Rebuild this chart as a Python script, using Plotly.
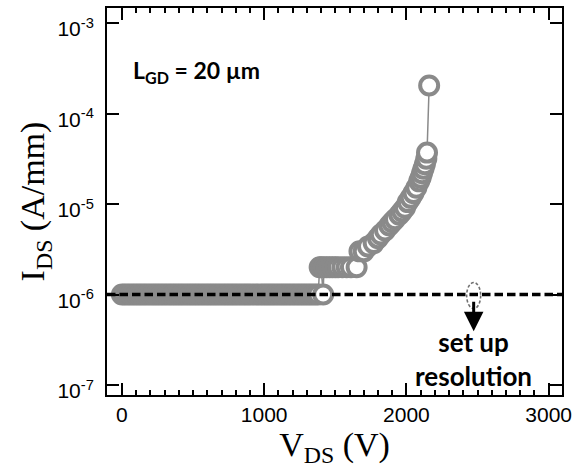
import plotly.graph_objects as go
import numpy as np

# ---- data ----
vds = [
    0, 20, 40, 60, 80, 100, 120, 140, 160, 180,
    200, 220, 240, 260, 280, 300, 320, 340, 360, 380,
    400, 420, 440, 460, 480, 500, 520, 540, 560, 580,
    600, 620, 640, 660, 680, 700, 720, 740, 760, 780,
    800, 820, 840, 860, 880, 900, 920, 940, 960, 980,
    1000, 1020, 1040, 1060, 1080, 1100, 1120, 1140, 1160, 1180,
    1200, 1220, 1240, 1260, 1280, 1300, 1320, 1340, 1360, 1380,
    1390, 1400, 1415, 1420, 1440, 1460, 1480, 1500, 1520, 1550, 1580, 1610, 1650,
    1670, 1700, 1730, 1770, 1800, 1820, 1850, 1880, 1900, 1920,
    1950, 1970, 1990, 2010, 2030, 2050, 2070, 2090, 2100, 2110,
    2120, 2130, 2140, 2145, 2160,
]
ids = [
    1e-6, 1e-6, 1e-6, 1e-6, 1e-6, 1e-6, 1e-6, 1e-6, 1e-6, 1e-6,
    1e-6, 1e-6, 1e-6, 1e-6, 1e-6, 1e-6, 1e-6, 1e-6, 1e-6, 1e-6,
    1e-6, 1e-6, 1e-6, 1e-6, 1e-6, 1e-6, 1e-6, 1e-6, 1e-6, 1e-6,
    1e-6, 1e-6, 1e-6, 1e-6, 1e-6, 1e-6, 1e-6, 1e-6, 1e-6, 1e-6,
    1e-6, 1e-6, 1e-6, 1e-6, 1e-6, 1e-6, 1e-6, 1e-6, 1e-6, 1e-6,
    1e-6, 1e-6, 1e-6, 1e-6, 1e-6, 1e-6, 1e-6, 1e-6, 1e-6, 1e-6,
    1e-6, 1e-6, 1e-6, 1e-6, 1e-6, 1e-6, 1e-6, 1e-6, 1e-6, 1e-6,
    2e-6, 2e-6, 1e-6, 2e-6, 2e-6, 2e-6, 2e-6, 2e-6, 2e-6, 2e-6, 2e-6, 2e-6, 2e-6,
    3.0e-6, 3.0e-6, 3.4e-6, 3.7e-6, 4.2e-6, 4.6e-6, 5.1e-6, 5.8e-6, 6.3e-6, 6.8e-6,
    7.6e-6, 8.3e-6, 9.1e-6, 1.05e-5, 1.17e-5, 1.32e-5, 1.51e-5, 1.78e-5, 1.95e-5, 2.19e-5,
    2.45e-5, 2.75e-5, 3.16e-5, 3.7e-5, 2.04e-4,
]

resolution_level = 1e-6
resolution_x = [-105, 3094]
marker_v = 2473

x_ticks = [0, 1000, 2000, 3000]
x_ticktext = ["0", "1000", "2000", "3000"]
y_ticks = [1e-7, 1e-6, 1e-5, 1e-4, 1e-3]
y_ticktext = ["10<sup>-7</sup>", "10<sup>-6</sup>", "10<sup>-5</sup>",
              "10<sup>-4</sup>", "10<sup>-3</sup>"]

GRAY = "#8a8a8a"

W, H = 583, 476
ML, MR, MT, MB = 107, 21, 8, 81
X_RANGE = [-105, 3094]
Y_RANGE = [-7.11, -2.834]

fig = go.Figure()
fig.add_trace(go.Scatter(
    x=vds, y=ids, mode="lines+markers",
    line=dict(color=GRAY, width=1.5),
    marker=dict(symbol="circle", size=18, color="white",
                line=dict(color=GRAY, width=4)),
    showlegend=False, cliponaxis=True, hoverinfo="skip",
))
fig.add_trace(go.Scatter(
    x=resolution_x, y=[resolution_level, resolution_level], mode="lines",
    line=dict(color="black", width=3.5, dash="8.5px,4px"),
    showlegend=False, hoverinfo="skip",
))

axis_common = dict(
    showline=True, linecolor="black", linewidth=2, mirror="allticks",
    ticks="inside", ticklen=12, tickwidth=2, tickcolor="black",
    showgrid=False, zeroline=False, automargin=False,
    tickfont=dict(family="Liberation Sans, Arial", size=21, color="black"),
)

fig.update_xaxes(
    range=X_RANGE, tickvals=x_ticks, ticktext=x_ticktext,
    minor=dict(ticks="inside", ticklen=5, tickwidth=1.5, tickcolor="black", dtick=100,
               showgrid=False),
    title=dict(text="V<sub>DS</sub> (V)",
               font=dict(family="Liberation Serif, Times New Roman", size=34, color="black"),
               standoff=4),
    **axis_common,
)
fig.update_yaxes(
    type="log", range=Y_RANGE, tickvals=y_ticks, ticktext=y_ticktext,
    ticklabelshift=6, ticklabelstandoff=7,
    title=dict(text="I<sub>DS</sub> (A/mm)",
               font=dict(family="Liberation Serif, Times New Roman", size=34, color="black"),
               standoff=2),
    **axis_common,
)

# dotted ellipse marking the resolution point
ph = H - MT - MB
decades = Y_RANGE[1] - Y_RANGE[0]
lv = np.log10(resolution_level)
y_top = (lv - Y_RANGE[0]) / decades + 12 / ph
y_bot = (lv - Y_RANGE[0]) / decades - 14 / ph
fig.add_shape(type="circle", xref="x", yref="paper",
              xsizemode="pixel", xanchor=marker_v, x0=-7, x1=7,
              y0=y_bot, y1=y_top,
              line=dict(color="#707070", width=1.6, dash="3px,2px"),
              layer="above")

fig.add_annotation(x=marker_v, y=lv - 0.405, xref="x", yref="y",
                   ax=0, ay=-31, text="", showarrow=True,
                   arrowhead=2, arrowsize=1.3, arrowwidth=3, arrowcolor="black")

bold_font = dict(family="Lato, Open Sans, sans-serif", size=26, color="black")
fig.add_annotation(x=marker_v, y=lv - 0.32, xref="x", yref="y",
                   text="<b>set up</b><br><b>resolution</b>", showarrow=False,
                   font=bold_font, align="center", yanchor="top", xanchor="center")

pw = W - ML - MR
fig.add_annotation(x=(131 - ML) / pw, y=1 - (71 - MT) / ph, xref="paper", yref="paper",
                   text="<b>L<sub>GD</sub> = 20 µm</b>", showarrow=False,
                   font=dict(family="Lato, Open Sans, sans-serif", size=23, color="black"),
                   xanchor="left", yanchor="middle")

fig.update_layout(
    width=W, height=H,
    margin=dict(l=ML, r=MR, t=MT, b=MB, autoexpand=False),
    plot_bgcolor="white", paper_bgcolor="white",
    hovermode=False,
)

fig.write_html("out.html", config={"displayModeBar": False},
               post_script="document.body.style.margin='0';")
